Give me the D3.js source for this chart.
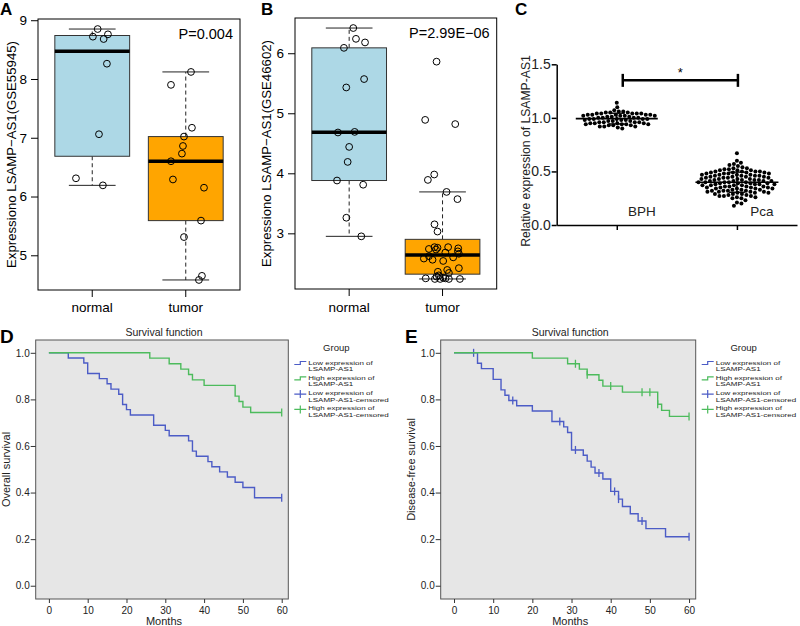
<!DOCTYPE html>
<html>
<head>
<meta charset="utf-8">
<script src="https://cdn.jsdelivr.net/npm/d3@7"></script>
<style>
body { margin: 0; background: #fff; }
svg { font-family: "Liberation Sans", Arial, sans-serif; }
</style>
</head>
<body>
<svg id="fig" width="800" height="626"></svg>
<script>
// ---- data ----
var boxGroups = ["normal", "tumor"];

// A: GSE55945, value + horizontal jitter (in category units)
var gse55945Normal = [8.85, 8.72, 8.68, 8.76, 8.26, 7.06, 6.31, 6.19];
var gse55945NormalJit = [0.058, 0.007, 0.122, 0.168, 0.157, 0.072, -0.174, 0.114];
var gse55945Tumor = [8.12, 7.90, 7.17, 7.02, 6.86, 6.73, 6.60, 6.29, 6.15, 5.59, 5.31, 4.65, 4.58];
var gse55945TumorJit = [0.056, -0.158, 0.066, -0.019, -0.03, -0.041, -0.158, -0.137, 0.195, 0.163, -0.019, 0.173, 0.141];

// B: GSE46602
var gse46602Normal = [6.42, 6.24, 6.18, 6.09, 5.57, 5.43, 4.68, 4.69, 4.44, 4.19, 3.88, 3.81, 3.26, 2.95];
var gse46602NormalJit = [0.044, 0.073, 0.17, -0.056, 0.16, -0.031, -0.12, 0.059, 0, -0.016, -0.13, 0.15, -0.03, 0.13];
var gse46602Tumor = [2.24, 2.24, 2.24, 2.24, 2.25, 2.25, 2.26, 2.28, 2.30, 2.34, 2.36, 2.39, 2.42, 2.54, 2.56, 2.58,
  2.60, 2.62, 2.66, 2.68, 2.70, 2.73, 2.74, 2.75, 2.76, 2.77, 2.77, 3.03, 3.15, 3.57, 3.69, 3.89, 3.98, 4.82, 4.89, 5.86];
var gse46602TumorJit = [-0.082, -0.025, 0.068, 0.186, -0.18, 0.032, 0.007, -0.064, -0.04, 0.068, -0.05, 0.05, 0.175, 0.007, -0.107, -0.2,
  0.114, -0.146, 0.175, 0.03, 0.164, -0.07, -0.146, 0.168, -0.054, -0.086, 0.06, -0.054, -0.086, 0.16, 0.043, -0.157, -0.089, 0.136, -0.186, -0.064];

var pLabels = ["P=0.004", "P=2.99E\u221206"];
var ticksA = [5, 6, 7, 8, 9];
var ticksB = [3, 4, 5, 6];

// C: qPCR relative expression
var qpcrGroups = ["BPH", "Pca"];
var bphExpr = [1.14, 1.10, 1.07, 1.06, 1.06, 1.05, 1.05, 1.05, 1.04, 1.04, 1.04, 1.04, 1.04, 1.03, 1.03, 1.03, 1.03, 1.03,
  1.02, 1.02, 1.02, 1.02, 1.01, 1.01, 1.01, 1.00, 1.00, 1.00, 1.00, 0.99, 0.99, 0.99, 0.99, 0.99, 0.98, 0.98, 0.98,
  0.97, 0.97, 0.97, 0.96, 0.96, 0.96, 0.96, 0.95, 0.95, 0.95, 0.95, 0.94, 0.94, 0.94, 0.94, 0.93, 0.93, 0.93,
  0.92, 0.92, 0.92, 0.91, 0.90];
var pcaExpr = [0.67, 0.60, 0.58, 0.57, 0.56, 0.55, 0.54, 0.53, 0.53, 0.52, 0.52, 0.51, 0.51, 0.51, 0.50, 0.50, 0.50, 0.50,
  0.49, 0.49, 0.49, 0.49, 0.48, 0.48, 0.48, 0.48, 0.47, 0.47, 0.47, 0.47, 0.46, 0.46, 0.46, 0.46, 0.45, 0.45, 0.45, 0.45,
  0.44, 0.44, 0.44, 0.44, 0.43, 0.43, 0.43, 0.43, 0.42, 0.42, 0.42, 0.42, 0.41, 0.41, 0.41, 0.41, 0.40, 0.40, 0.40, 0.40, 0.40,
  0.39, 0.39, 0.39, 0.39, 0.38, 0.38, 0.38, 0.38, 0.37, 0.37, 0.37, 0.37, 0.36, 0.36, 0.36, 0.36, 0.35, 0.35, 0.35, 0.35,
  0.34, 0.34, 0.34, 0.34, 0.33, 0.33, 0.33, 0.32, 0.32, 0.32, 0.32, 0.31, 0.31, 0.31, 0.31, 0.30, 0.30, 0.30,
  0.29, 0.29, 0.29, 0.28, 0.28, 0.27, 0.27, 0.27, 0.26, 0.26, 0.25, 0.25, 0.23, 0.21, 0.20, 0.18];
var ticksC = [0, 0.5, 1.0, 1.5];

// D/E: Kaplan-Meier (event months, survival after event, censor months)
var osLowTimes = [5, 9, 10, 13, 15, 16, 18, 19, 20, 21, 27, 30, 31, 36, 37, 38, 41, 42, 44, 46, 48, 50, 53];
var osLowSurv = [0.978, 0.956, 0.911, 0.889, 0.867, 0.844, 0.822, 0.778, 0.756, 0.733, 0.689, 0.667, 0.644, 0.622,
  0.578, 0.556, 0.533, 0.511, 0.489, 0.467, 0.444, 0.422, 0.378];
var osLowCensor = [60];
var osHighTimes = [26, 31, 34, 36, 37, 40, 48, 49, 50, 52];
var osHighSurv = [0.977, 0.953, 0.930, 0.907, 0.884, 0.860, 0.814, 0.791, 0.767, 0.744];
var osHighCensor = [60];

var dfsLowTimes = [6, 7, 10, 12, 13, 14, 16, 20, 25, 28, 29, 30, 33, 34, 35, 36, 38, 40, 42, 43, 45, 47, 49, 54];
var dfsLowSurv = [0.955, 0.932, 0.886, 0.841, 0.818, 0.795, 0.773, 0.750, 0.705, 0.682, 0.658, 0.583, 0.560, 0.535,
  0.509, 0.484, 0.458, 0.405, 0.372, 0.340, 0.309, 0.278, 0.245, 0.210];
var dfsLowCensor = [5, 15, 27, 31, 37, 41, 42, 48, 60];
var dfsHighTimes = [20, 29, 32, 34, 37, 38, 43, 52, 53, 55];
var dfsHighSurv = [0.977, 0.953, 0.930, 0.906, 0.882, 0.857, 0.831, 0.779, 0.753, 0.727];
var dfsHighCensor = [31, 34, 40, 48, 50, 52, 60];

var monthTicks = [0, 10, 20, 30, 40, 50, 60];
var survTicks = [0, 0.2, 0.4, 0.6, 0.8, 1.0];
var legendLabels = [["Low expression of", "LSAMP-AS1"], ["High expression of", "LSAMP-AS1"],
  ["Low expression of", "LSAMP-AS1-censored"], ["High expression of", "LSAMP-AS1-censored"]];

var blue = "#4c5cc6", green = "#4cbb5c";
var svg = d3.select("#fig");

// R-style five number summary (Tukey hinges)
function fivenum(v) {
  var x = v.slice().sort(d3.ascending), n = x.length, n4 = Math.floor((n + 3) / 2) / 2;
  return [1, n4, (n + 1) / 2, n + 1 - n4, n].map(function(i) {
    return 0.5 * (x[Math.floor(i) - 1] + x[Math.ceil(i) - 1]);
  });
}

function boxPanel(cfg) {
  var g = svg.append("g");
  var all = cfg.series[0].values.concat(cfg.series[1].values);
  var ext = d3.extent(all), pad = (ext[1] - ext[0]) * 0.04;
  var x = d3.scaleLinear().domain([0.42, 2.58]).range([cfg.left, cfg.right]);
  var y = d3.scaleLinear().domain([ext[0] - pad, ext[1] + pad]).range([cfg.bottom, cfg.top]);

  cfg.series.forEach(function(s, i) {
    var f = fivenum(s.values), iqr = f[3] - f[1];
    var hi = d3.max(s.values.filter(function(v) { return v <= f[3] + 1.5 * iqr; }));
    var lo = d3.min(s.values.filter(function(v) { return v >= f[1] - 1.5 * iqr; }));
    var c = i + 1;
    [[f[3], hi], [f[1], lo]].forEach(function(w) {
      g.append("line").attr("x1", x(c)).attr("x2", x(c)).attr("y1", y(w[0])).attr("y2", y(w[1]))
        .attr("stroke", "#222").attr("stroke-dasharray", "4,3");
      g.append("line").attr("x1", x(c - 0.25)).attr("x2", x(c + 0.25)).attr("y1", y(w[1])).attr("y2", y(w[1]))
        .attr("stroke", "#222");
    });
    g.append("rect").attr("x", x(c - 0.4)).attr("width", x(c + 0.4) - x(c - 0.4))
      .attr("y", y(f[3])).attr("height", y(f[1]) - y(f[3]))
      .attr("fill", s.color).attr("stroke", "#333");
    g.append("line").attr("x1", x(c - 0.4)).attr("x2", x(c + 0.4)).attr("y1", y(f[2])).attr("y2", y(f[2]))
      .attr("stroke", "#000").attr("stroke-width", 3.5);
    g.selectAll(null).data(s.values).join("circle")
      .attr("cx", function(d, j) { return x(c + s.jit[j]); })
      .attr("cy", function(d) { return y(d); })
      .attr("r", 3.4).attr("fill", "none").attr("stroke", "#000").attr("stroke-width", 1);
  });

  g.append("rect").attr("x", cfg.left).attr("y", cfg.top)
    .attr("width", cfg.right - cfg.left).attr("height", cfg.bottom - cfg.top)
    .attr("fill", "none").attr("stroke", "#000");

  var ya = g.append("g").attr("transform", "translate(" + cfg.left + ",0)")
    .call(d3.axisLeft(y).tickValues(cfg.ticks).tickSize(7).tickSizeOuter(0).tickPadding(4).tickFormat(d3.format("d")));
  ya.select(".domain").remove();
  ya.selectAll("text").attr("font-size", 13.5).attr("fill", "#000").attr("font-family", null);

  boxGroups.forEach(function(name, i) {
    g.append("line").attr("x1", x(i + 1)).attr("x2", x(i + 1)).attr("y1", cfg.bottom).attr("y2", cfg.bottom + 7).attr("stroke", "#000");
    g.append("text").attr("x", x(i + 1)).attr("y", 312).attr("text-anchor", "middle").attr("font-size", 13.5).text(name);
  });

  g.append("text").attr("x", cfg.right - 7).attr("y", cfg.top + 20).attr("text-anchor", "end")
    .attr("font-size", 14.5).text(cfg.p);
  g.append("text").attr("transform", "translate(" + cfg.ylabX + "," + (cfg.top + cfg.bottom) / 2 + ") rotate(-90)")
    .attr("text-anchor", "middle").attr("dy", "0.35em").attr("font-size", 13.2).text(cfg.ylab);
  g.append("text").attr("x", cfg.tagX).attr("y", 15).attr("font-size", 17).attr("font-weight", "bold").text(cfg.tag);
}

boxPanel({
  left: 38, right: 240, top: 19, bottom: 290, ticks: ticksA, p: pLabels[0], tag: "A", tagX: 0, ylabX: 11.5,
  ylab: "Expressiono LSAMP\u2212AS1(GSE55945)",
  series: [{ values: gse55945Normal, jit: gse55945NormalJit, color: "#add8e6" },
           { values: gse55945Tumor, jit: gse55945TumorJit, color: "#ffa500" }]
});
boxPanel({
  left: 295, right: 496.7, top: 18, bottom: 289, ticks: ticksB, p: pLabels[1], tag: "B", tagX: 261, ylabX: 266.5,
  ylab: "Expressiono LSAMP\u2212AS1(GSE46602)",
  series: [{ values: gse46602Normal, jit: gse46602NormalJit, color: "#add8e6" },
           { values: gse46602Tumor, jit: gse46602TumorJit, color: "#ffa500" }]
});

// ---- C: scatter dot plot ----
function swarm(vals, y, dist) {
  var placed = [];
  vals.slice().sort(d3.descending).forEach(function(v) {
    var py = y(v), dx = 0;
    for (var k = 0; k < 600; k++) {
      var cand = (k % 2 ? 1 : -1) * Math.ceil(k / 2) * 0.5;
      var ok = placed.every(function(p) {
        var a = p.dx - cand, b = p.y - py;
        return a * a + b * b >= dist * dist;
      });
      if (ok) { dx = cand; break; }
    }
    placed.push({ dx: dx, y: py, v: v });
  });
  return placed;
}

(function() {
  var g = svg.append("g");
  var yC = d3.scaleLinear().domain([0, 1.5]).range([225, 64.3]);
  var xC = d3.scalePoint().domain(qpcrGroups).range([556.7, 797]).padding(0.5);

  [bphExpr, pcaExpr].forEach(function(vals, i) {
    var cx = xC(qpcrGroups[i]);
    var pts = swarm(vals, yC, 4.3);
    g.selectAll(null).data(pts).join("circle")
      .attr("cx", function(d) { return cx + d.dx; }).attr("cy", function(d) { return d.y; })
      .attr("r", 2).attr("fill", "#000");
    var m = d3.mean(vals), sd = d3.deviation(vals);
    var w = d3.max(pts, function(d) { return Math.abs(d.dx); }) + 3;
    g.append("line").attr("x1", cx - w).attr("x2", cx + w).attr("y1", yC(m)).attr("y2", yC(m))
      .attr("stroke", "#000").attr("stroke-width", 1.6);
    g.append("line").attr("x1", cx).attr("x2", cx).attr("y1", yC(m - sd)).attr("y2", yC(m + sd))
      .attr("stroke", "#000").attr("stroke-width", 1.4);
    [m - sd, m + sd].forEach(function(v) {
      g.append("line").attr("x1", cx - 8).attr("x2", cx + 8).attr("y1", yC(v)).attr("y2", yC(v))
        .attr("stroke", "#000").attr("stroke-width", 1.4);
    });
    g.append("text").attr("x", cx + 25).attr("y", 216).attr("text-anchor", "middle")
      .attr("font-size", 13.5).attr("fill", "#222").text(qpcrGroups[i]);
  });

  var ya = g.append("g").attr("transform", "translate(556.7,0)")
    .call(d3.axisLeft(yC).tickValues(ticksC).tickSize(5).tickSizeOuter(0).tickPadding(1).tickFormat(d3.format(".1f")));
  ya.select(".domain").attr("stroke-width", 1.5);
  ya.selectAll(".tick line").attr("stroke-width", 1.5);
  ya.selectAll("text").attr("font-size", 14).attr("fill", "#222").attr("font-family", null);

  var xa = g.append("g").attr("transform", "translate(0,225)")
    .call(d3.axisBottom(xC).tickSize(5).tickSizeOuter(0).tickFormat(""));
  xa.select(".domain").attr("stroke-width", 1.5);
  xa.selectAll(".tick line").attr("stroke-width", 1.5);

  // significance bar
  var sy = yC(1.35), x1 = xC("BPH") + 6, x2 = xC("Pca") + 1;
  g.append("line").attr("x1", x1).attr("x2", x2).attr("y1", sy).attr("y2", sy).attr("stroke", "#000").attr("stroke-width", 2.5);
  [x1, x2].forEach(function(xx) {
    g.append("line").attr("x1", xx).attr("x2", xx).attr("y1", sy - 6.5).attr("y2", sy + 6.5).attr("stroke", "#000").attr("stroke-width", 2.5);
  });
  g.append("text").attr("x", (x1 + x2) / 2).attr("y", sy - 3).attr("text-anchor", "middle").attr("font-size", 13).text("*");

  g.append("text").attr("transform", "translate(526,151) rotate(-90)").attr("text-anchor", "middle")
    .attr("dy", "0.35em").attr("font-size", 12.2).attr("fill", "#222").text("Relative expression of LSAMP-AS1");
  g.append("text").attr("x", 515).attr("y", 15).attr("font-size", 17).attr("font-weight", "bold").text("C");
})();

// ---- D/E: Kaplan-Meier ----
function survAt(times, surv, t) {
  var s = 1;
  times.forEach(function(tt, i) { if (tt <= t) s = surv[i]; });
  return s;
}

function kmPanel(cfg) {
  var g = svg.append("g");
  var x = d3.scaleLinear().domain([-3.4, 61.7]).range([cfg.left, cfg.right]);
  var y = d3.scaleLinear().domain([-0.057, 1.055]).range([599, 340]);

  g.append("rect").attr("x", cfg.left).attr("y", 340).attr("width", cfg.right - cfg.left).attr("height", 259)
    .attr("fill", "#e6e6e6").attr("stroke", "#555");

  var line = d3.line().curve(d3.curveStepAfter).x(function(d) { return x(d[0]); }).y(function(d) { return y(d[1]); });
  cfg.curves.forEach(function(c) {
    var end = d3.max(c.censor.concat(c.times));
    var pts = [[0, 1]].concat(c.times.map(function(t, i) { return [t, c.surv[i]]; }));
    pts.push([end, c.surv[c.surv.length - 1]]);
    g.append("path").attr("d", line(pts)).attr("fill", "none").attr("stroke", c.color).attr("stroke-width", 1.4);
    g.selectAll(null).data(c.censor).join("line")
      .attr("x1", function(d) { return x(d); }).attr("x2", function(d) { return x(d); })
      .attr("y1", function(d) { return y(survAt(c.times, c.surv, d)) - 4; })
      .attr("y2", function(d) { return y(survAt(c.times, c.surv, d)) + 4; })
      .attr("stroke", c.color).attr("stroke-width", 1.3);
  });

  var ya = g.append("g").attr("transform", "translate(" + cfg.left + ",0)")
    .call(d3.axisLeft(y).tickValues(survTicks).tickSize(5).tickSizeOuter(0).tickPadding(1).tickFormat(d3.format(".1f")));
  ya.select(".domain").remove();
  ya.selectAll("line").attr("stroke", "#333");
  ya.selectAll("text").attr("font-size", 10).attr("fill", "#222").attr("font-family", null);

  var xa = g.append("g").attr("transform", "translate(0,599)")
    .call(d3.axisBottom(x).tickValues(monthTicks).tickSize(4).tickSizeOuter(0).tickPadding(3.5));
  xa.select(".domain").remove();
  xa.selectAll("line").attr("stroke", "#333");
  xa.selectAll("text").attr("font-size", 10).attr("fill", "#222").attr("font-family", null);

  var cxm = (cfg.left + cfg.right) / 2;
  g.append("text").attr("x", cxm + 2).attr("y", 336).attr("text-anchor", "middle").attr("font-size", 10.5)
    .attr("fill", "#222").text("Survival function");
  g.append("text").attr("x", cxm + 2).attr("y", 624.5).attr("text-anchor", "middle").attr("font-size", 11)
    .attr("fill", "#222").text("Months");
  g.append("text").attr("transform", "translate(" + (cfg.left - 30) + ",469.5) rotate(-90)")
    .attr("text-anchor", "middle").attr("dy", "0.35em").attr("font-size", 11).attr("fill", "#222").text(cfg.ylab);
  g.append("text").attr("x", cfg.tagX).attr("y", 343).attr("font-size", 19).attr("font-weight", "bold").text(cfg.tag);

  // legend
  var lx = cfg.right;
  g.append("text").attr("x", lx + 48).attr("y", 351).attr("text-anchor", "middle").attr("font-size", 9.5)
    .attr("fill", "#222").text("Group");
  var colors = [blue, green, blue, green];
  legendLabels.forEach(function(lab, i) {
    var by = 364.5 + 15.3 * i;
    if (i < 2) {
      g.append("path").attr("d", "M" + (lx + 6) + "," + by + "H" + (lx + 12) + "V" + (by - 3) + "H" + (lx + 18))
        .attr("fill", "none").attr("stroke", colors[i]).attr("stroke-width", 1.2);
    } else {
      g.append("path").attr("d", "M" + (lx + 6) + "," + (by - 1) + "H" + (lx + 18) + "M" + (lx + 12) + "," + (by - 5) + "V" + (by + 3))
        .attr("fill", "none").attr("stroke", colors[i]).attr("stroke-width", 1.2);
    }
    lab.forEach(function(t, k) {
      g.append("text").attr("transform", "translate(" + (lx + 20) + "," + (by + k * 6.4) + ") scale(1,0.72)")
        .attr("font-size", 8).attr("fill", "#222").text(t);
    });
  });
}

kmPanel({
  left: 35.7, right: 288.3, tag: "D", tagX: 0, ylab: "Overall survival",
  curves: [{ times: osLowTimes, surv: osLowSurv, censor: osLowCensor, color: blue },
           { times: osHighTimes, surv: osHighSurv, censor: osHighCensor, color: green }]
});
kmPanel({
  left: 440.7, right: 695.7, tag: "E", tagX: 405, ylab: "Disease-free survival",
  curves: [{ times: dfsLowTimes, surv: dfsLowSurv, censor: dfsLowCensor, color: blue },
           { times: dfsHighTimes, surv: dfsHighSurv, censor: dfsHighCensor, color: green }]
});
</script>
</body>
</html>
